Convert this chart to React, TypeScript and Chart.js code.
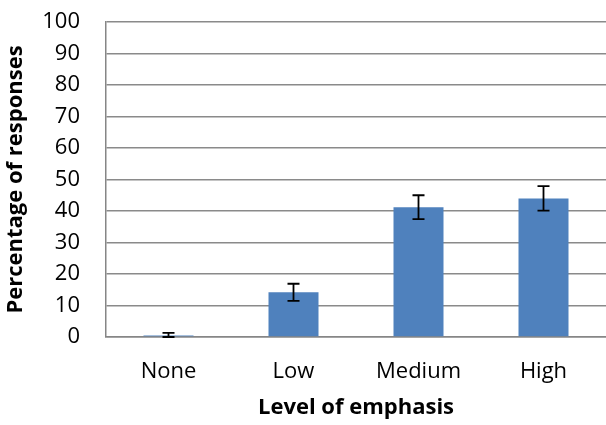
import React, { useEffect, useRef } from "react";
import { Chart, registerables } from "chart.js";

Chart.register(...registerables);

const categories = ["None", "Low", "Medium", "High"];
const values = [0.5, 14.2, 41.2, 44.0];
const errors = [0.8, 2.7, 3.8, 3.9];
const yTicks = [0, 10, 20, 30, 40, 50, 60, 70, 80, 90, 100];

const FONT = "'Open Sans', sans-serif";

const errorBarPlugin = {
  id: "errorBars",
  afterDatasetsDraw(chart: any) {
    const ctx = chart.ctx;
    const meta = chart.getDatasetMeta(0);
    const ys = chart.scales.y;
    ctx.save();
    ctx.strokeStyle = "#000";
    ctx.lineWidth = 1.8;
    meta.data.forEach((bar: any, i: number) => {
      const x = bar.x;
      const top = ys.getPixelForValue(values[i] + errors[i]);
      const bot = ys.getPixelForValue(Math.max(0, values[i] - errors[i]));
      const cap = 6;
      ctx.beginPath();
      ctx.moveTo(x, top);
      ctx.lineTo(x, bot);
      ctx.moveTo(x - cap, top);
      ctx.lineTo(x + cap, top);
      ctx.moveTo(x - cap, bot);
      ctx.lineTo(x + cap, bot);
      ctx.stroke();
    });
    ctx.restore();
  },
};

export default function App() {
  const ref = useRef<HTMLCanvasElement | null>(null);
  useEffect(() => {
    document.body.style.margin = "0";
    const chart = new Chart(ref.current!, {
      type: "bar",
      data: {
        labels: categories,
        datasets: [
          {
            data: values,
            backgroundColor: "#4F81BD",
            categoryPercentage: 1,
            barPercentage: 0.4,
          },
        ],
      },
      options: {
        animation: false,
        responsive: false,
        maintainAspectRatio: false,
        layout: { padding: { top: 22, right: 0, left: 0, bottom: 0 } },
        plugins: { legend: { display: false }, tooltip: { enabled: false } },
        scales: {
          x: {
            grid: { display: false, drawTicks: false },
            border: { color: "#868686", width: 1.5 },
            ticks: { color: "#000", font: { family: FONT, size: 22 }, padding: 22 },
            title: {
              display: true,
              text: "Level of emphasis",
              color: "#000",
              font: { family: FONT, size: 22, weight: "bold" },
              padding: { top: 8, bottom: 4 },
            },
            afterFit(scale: any) {
              scale.height = 88;
              scale.paddingLeft = 0;
              scale.paddingRight = 0;
            },
          },
          y: {
            min: 0,
            max: 100,
            afterBuildTicks(scale: any) {
              scale.ticks = yTicks.map((v) => ({ value: v }));
            },
            grid: { color: "#8a8a8a", lineWidth: 1.5, drawTicks: false },
            border: { color: "#868686", width: 1.5 },
            ticks: { color: "#000", font: { family: FONT, size: 22 }, padding: 26 },
            title: {
              display: true,
              text: "Percentage of responses",
              color: "#000",
              font: { family: FONT, size: 22, weight: "bold" },
              padding: { top: 3, bottom: 0 },
            },
            afterFit(scale: any) {
              scale.width = 106;
              scale.paddingTop = 0;
              scale.paddingBottom = 0;
            },
          },
        },
      },
      plugins: [errorBarPlugin],
    });
    return () => chart.destroy();
  }, []);
  return (
    <div style={{ position: "absolute", left: 0, top: 0, width: 606, height: 425 }}>
      <canvas ref={ref} width={606} height={425} />
    </div>
  );
}
